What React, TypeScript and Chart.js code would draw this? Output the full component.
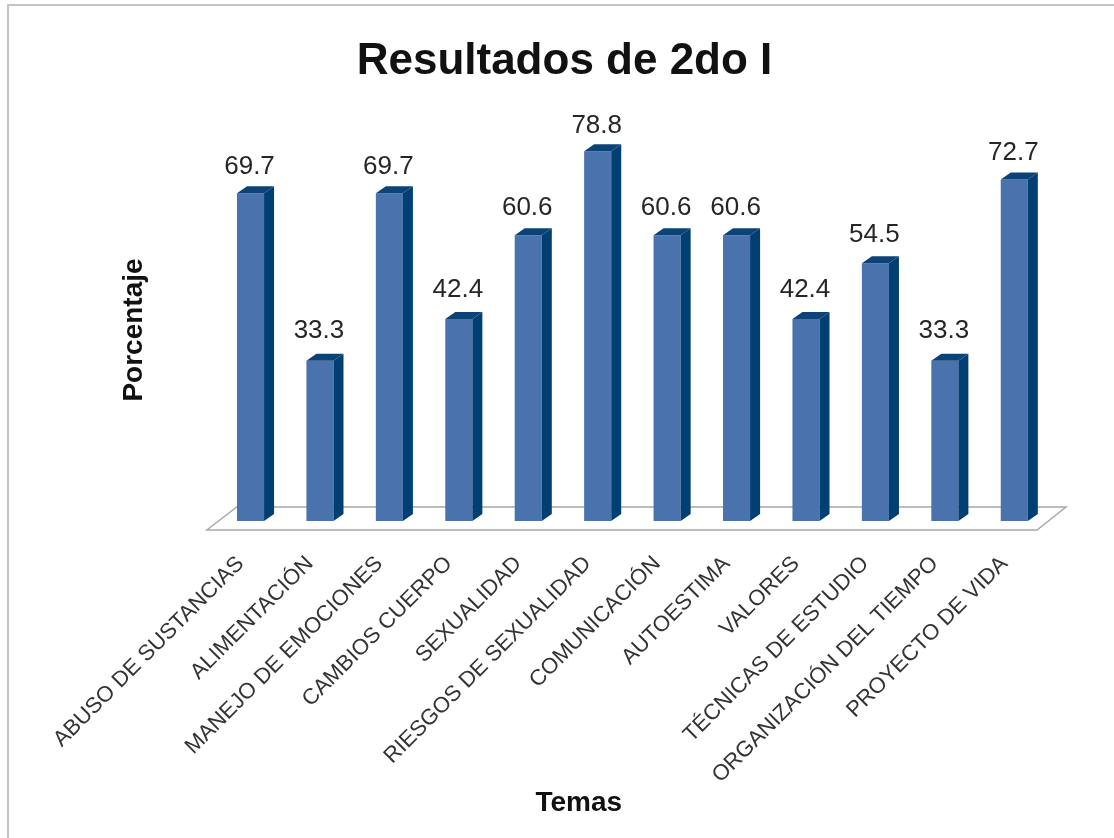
import React, { useEffect, useRef } from "react";
import { Chart, registerables } from "chart.js";

Chart.register(...registerables);

const categories = [
  "ABUSO DE SUSTANCIAS",
  "ALIMENTACIÓN",
  "MANEJO DE EMOCIONES",
  "CAMBIOS CUERPO",
  "SEXUALIDAD",
  "RIESGOS DE SEXUALIDAD",
  "COMUNICACIÓN",
  "AUTOESTIMA",
  "VALORES",
  "TÉCNICAS DE ESTUDIO",
  "ORGANIZACIÓN DEL TIEMPO",
  "PROYECTO DE VIDA",
];
const values = [69.7, 33.3, 69.7, 42.4, 60.6, 78.8, 60.6, 60.6, 42.4, 54.5, 33.3, 72.7];
const chartTitle = "Resultados de 2do I";
const xTitle = "Temas";
const yTitle = "Porcentaje";

const FONT = '"Liberation Sans", Arial, sans-serif';
const FRONT = "#4a73ae";
const SIDE = "#003f72";
const TOP = "#0b4377";
const DEPTH_X = 10;
const DEPTH_Y = 7;
const AXIS_MIN = -1.5; // bars sink below the zero line onto the front of the 3D floor

const threeD = {
  id: "threeD",
  beforeDatasetsDraw(chart: any) {
    const { ctx, chartArea: a } = chart;
    ctx.save();
    ctx.strokeStyle = "#a8a8a8";
    ctx.lineWidth = 1.5;
    ctx.beginPath();
    ctx.moveTo(a.left - 9, a.bottom + 9);
    ctx.lineTo(a.left + 21, a.bottom - 14);
    ctx.lineTo(a.right + 17, a.bottom - 14);
    ctx.lineTo(a.right - 12, a.bottom + 9);
    ctx.closePath();
    ctx.stroke();
    ctx.restore();
  },
  afterDatasetsDraw(chart: any) {
    const { ctx } = chart;
    const bars = chart.getDatasetMeta(0).data;
    ctx.save();
    bars.forEach((bar: any, i: number) => {
      const p = bar.getProps(["x", "y", "base", "width"], true);
      const l = p.x - p.width / 2;
      const r = p.x + p.width / 2;
      ctx.fillStyle = SIDE;
      ctx.beginPath();
      ctx.moveTo(r, p.y);
      ctx.lineTo(r + DEPTH_X, p.y - DEPTH_Y);
      ctx.lineTo(r + DEPTH_X, p.base - DEPTH_Y);
      ctx.lineTo(r, p.base);
      ctx.closePath();
      ctx.fill();
      ctx.fillStyle = TOP;
      ctx.beginPath();
      ctx.moveTo(l, p.y);
      ctx.lineTo(l + DEPTH_X, p.y - DEPTH_Y);
      ctx.lineTo(r + DEPTH_X, p.y - DEPTH_Y);
      ctx.lineTo(r, p.y);
      ctx.closePath();
      ctx.fill();
      ctx.fillStyle = "#262626";
      ctx.font = `26px ${FONT}`;
      ctx.textAlign = "center";
      ctx.textBaseline = "middle";
      ctx.fillText(values[i].toFixed(1), p.x - 1, p.y - 26 - (p.y - 151) * 0.02);
    });
    ctx.restore();
  },
  afterDraw(chart: any) {
    const { ctx, chartArea: a, width } = chart;
    ctx.save();
    ctx.strokeStyle = "#c4c4c4";
    ctx.lineWidth = 2;
    ctx.beginPath();
    ctx.moveTo(8, chart.height);
    ctx.lineTo(8, 5);
    ctx.lineTo(width, 5);
    ctx.stroke();
    ctx.fillStyle = "#111111";
    ctx.font = `bold 28px ${FONT}`;
    ctx.textAlign = "center";
    ctx.textBaseline = "middle";
    ctx.fillText(xTitle, a.left + 363, a.bottom + 282);
    ctx.translate(134, a.bottom - 191);
    ctx.rotate(-Math.PI / 2);
    ctx.fillText(yTitle, 0, 0);
    ctx.restore();
  },
};

export default function App() {
  const ref = useRef<HTMLCanvasElement>(null);
  useEffect(() => {
    document.body.style.margin = "0";
    const chart = new Chart(ref.current!, {
      type: "bar",
      data: {
        labels: categories,
        datasets: [
          {
            data: values,
            base: AXIS_MIN,
            backgroundColor: FRONT,
            categoryPercentage: 1,
            barPercentage: 0.39,
          },
        ],
      },
      options: {
        responsive: false,
        animation: false,
        layout: { padding: { left: 80, right: 65, top: 0, bottom: 0 } },
        plugins: {
          legend: { display: false },
          tooltip: { enabled: false },
          title: {
            display: true,
            text: chartTitle,
            color: "#111111",
            font: { family: FONT, size: 44, weight: "bold" },
            padding: { top: 35, bottom: 12 },
          },
        },
        scales: {
          x: {
            grid: { display: false },
            border: { display: false },
            ticks: {
              color: "#333333",
              font: { family: FONT, size: 22 },
              minRotation: 45,
              maxRotation: 45,
              padding: 22,
              labelOffset: -10,
              autoSkip: false,
            },
            afterFit(s: any) {
              s.height = 317;
            },
          },
          y: {
            min: AXIS_MIN,
            max: 90,
            grid: { display: false },
            border: { display: false },
            ticks: { display: false },
            afterFit(s: any) {
              s.width = 135.8;
            },
          },
        },
      },
      plugins: [threeD],
    } as any);
    return () => chart.destroy();
  }, []);
  return <canvas ref={ref} width={1114} height={838} style={{ display: "block", filter: "blur(0.6px)" }} />;
}
